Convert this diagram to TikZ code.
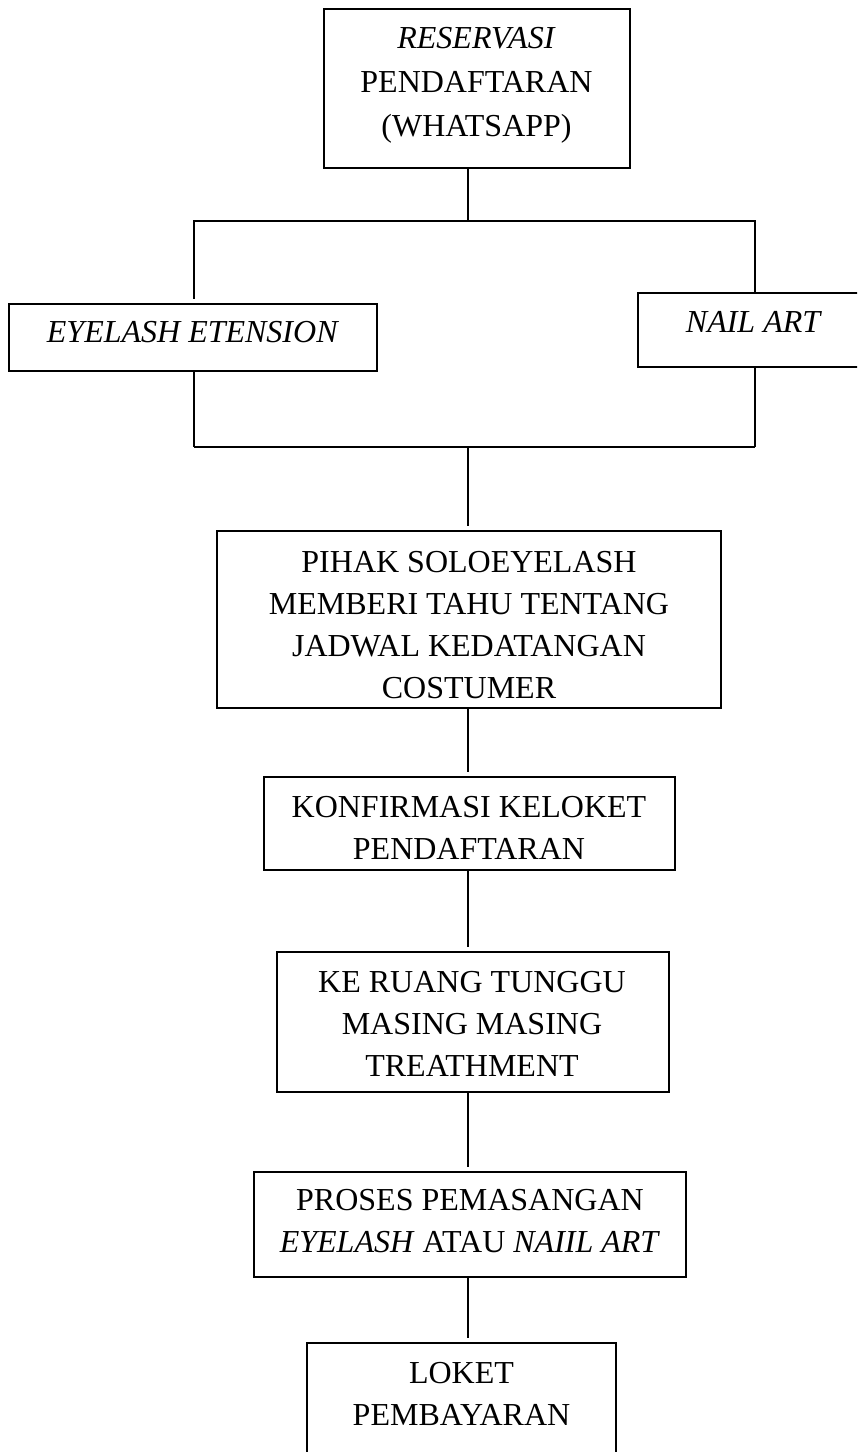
\documentclass[tikz,border=0pt]{standalone}
\usepackage{fontspec}
\setmainfont{Liberation Serif}
\usetikzlibrary{fit}
\begin{document}
\begin{tikzpicture}[x=0.75pt,y=-0.75pt,
  boxshape/.style={draw=black,line width=1.1pt,inner sep=0pt,fit={#1}},
  txt/.style={align=center,inner sep=0pt,font=\fontsize{24}{31.5}\selectfont},
  conn/.style={line width=1.3pt},
  gapend/.style={conn,shorten >=3pt},
  bar/.style={line width=2pt}]
\clip (0,0) rectangle (857,1452);
\fill[white] (0,0) rectangle (857,1452);
% boxes
\node[boxshape={(324,9)(630,168)}] (b1) {};
\node[boxshape={(9,304)(377,371)}] (b2) {};
\node[boxshape={(638,293)(872,367)}] (b3) {};
\node[boxshape={(217,531)(721,708)}] (b4) {};
\node[boxshape={(264,777)(675,870)}] (b5) {};
\node[boxshape={(277,952)(669,1092)}] (b6) {};
\node[boxshape={(254,1172)(686,1277)}] (b7) {};
\node[boxshape={(307,1343)(616,1475)}] (b8) {};
% texts
\node[txt,font=\fontsize{24}{33}\selectfont] (t1) at (476.5,85.5) {\textit{RESERVASI}\\PENDAFTARAN\\(WHATSAPP)};
\node[txt] (t2) at (193,332) {\textit{EYELASH ETENSION}};
\node[txt] (t3) at (754,322) {\textit{NAIL ART}};
\node[txt] (t4) at (469,625.5) {PIHAK SOLOEYELASH\\MEMBERI TAHU TENTANG\\JADWAL KEDATANGAN\\COSTUMER};
\node[txt] (t5) at (469,828) {KONFIRMASI KELOKET\\PENDAFTARAN};
\node[txt] (t6) at (472,1024) {KE RUANG TUNGGU\\MASING MASING\\TREATHMENT};
\node[txt] (t7) at (470,1221.5) {PROSES PEMASANGAN\\\textit{EYELASH} ATAU \textit{NAIIL ART}};
\node[txt] (t8) at (461.5,1394) {LOKET\\PEMBAYARAN};
% junction coordinates
\coordinate (tk) at (468,0);
\coordinate (xl) at (194,0);
\coordinate (xr) at (755,0);
\coordinate (jA) at (468,221);
\coordinate (jB) at (468,447);
% connectors
\draw[conn] (tk |- b1.south) -- (jA);
\draw[gapend] (jA) -- (xl |- jA) -- (xl |- b2.north);
\draw[conn] (jA) -- (xr |- jA) -- (xr |- b3.north);
\draw[conn] (xl |- b2.south) -- (xl |- jB);
\draw[conn] (xr |- b3.south) -- (xr |- jB);
\draw[bar] (xl |- jB) -- (xr |- jB);
\draw[gapend] (jB) -- (tk |- b4.north);
\draw[gapend] (tk |- b4.south) -- (tk |- b5.north);
\draw[gapend] (tk |- b5.south) -- (tk |- b6.north);
\draw[gapend] (tk |- b6.south) -- (tk |- b7.north);
\draw[gapend] (tk |- b7.south) -- (tk |- b8.north);
\end{tikzpicture}
\end{document}
